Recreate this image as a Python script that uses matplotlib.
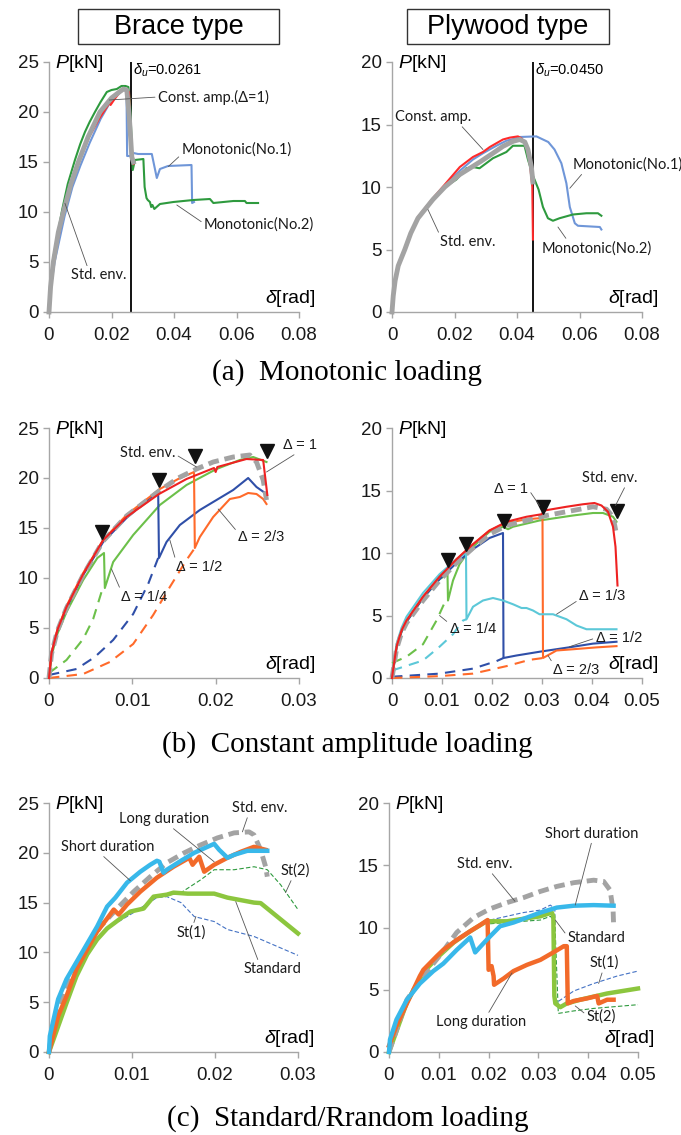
import matplotlib
matplotlib.use("Agg")
import matplotlib.pyplot as plt
from matplotlib.patches import Rectangle

plt.rcParams['font.family'] = ['Liberation Sans', 'DejaVu Sans']
plt.rcParams['mathtext.fontset'] = 'custom'
plt.rcParams['mathtext.rm'] = 'Liberation Sans'
plt.rcParams['mathtext.it'] = 'Liberation Sans:italic'

NOTE_FONT = ['Lato', 'DejaVu Sans']

# ---------------- (a) monotonic loading, brace type ----------------
a_br_env_x = [0, 0.0005, 0.0014, 0.003, 0.0046, 0.007, 0.0094, 0.0125, 0.0163, 0.02, 0.0225, 0.0238, 0.0249, 0.0257, 0.0265, 0.027]
a_br_env_y = [0, 2.5, 5, 8, 10, 12.8, 15, 17.5, 20, 21.4, 22.0, 22.3, 22.2, 19.5, 15.5, 15.0]
a_br_no1_x = [0, 0.0006, 0.0018, 0.005, 0.0075, 0.01, 0.013, 0.0165, 0.02, 0.0225, 0.0243, 0.0248, 0.025, 0.0264, 0.027,
              0.0285, 0.0297, 0.0329, 0.0345, 0.0355, 0.0381, 0.0456, 0.0458, 0.0464]
a_br_no1_y = [0, 2.5, 5, 9.6, 12.5, 14.6, 16.9, 19.3, 21.2, 22.0, 22.3, 22.0, 15.6, 15.6, 15.9,
              15.8, 15.8, 15.8, 13.4, 14.3, 14.6, 14.7, 10.9, 11.0]
a_br_no2_x = [0, 0.0005, 0.0013, 0.0042, 0.006, 0.0083, 0.01, 0.0115, 0.013, 0.0147, 0.0165, 0.0185, 0.02, 0.0217,
              0.0232, 0.0245, 0.0254, 0.026, 0.0268, 0.0275, 0.0302, 0.0306, 0.0312, 0.0316, 0.0323, 0.0327,
              0.0331, 0.0337, 0.0355, 0.0398, 0.0462, 0.0515, 0.0526, 0.059, 0.0627, 0.0632, 0.0669]
a_br_no2_y = [0, 2.7, 5.3, 10.2, 12.8, 15.2, 16.8, 18.0, 19.0, 20.0, 21.0, 22.0, 22.2, 22.3,
              22.6, 22.6, 22.5, 20.5, 14.2, 15.2, 15.3, 12.5, 11.4, 11.2, 11.0, 10.5,
              10.7, 10.3, 10.8, 11.0, 11.2, 11.3, 10.9, 11.1, 11.1, 10.9, 10.9]
a_br_ca_x = [0, 0.0005, 0.0015, 0.0046, 0.0075, 0.01, 0.013, 0.016, 0.0185, 0.0193, 0.0195, 0.0197, 0.021,
             0.0225, 0.024, 0.0252, 0.0256, 0.0258, 0.0262, 0.0265, 0.027]
a_br_ca_y = [0, 2.5, 5.1, 10.0, 13.2, 15.4, 17.6, 19.3, 20.5, 20.9, 21.3, 20.7, 21.3,
             21.9, 22.3, 22.1, 22.0, 20.2, 17.0, 15.3, 14.8]
a_br_du = 0.0261

# ---------------- (a) monotonic loading, plywood type ----------------
a_pl_env_x = [0, 0.0004, 0.001, 0.002, 0.0041, 0.006, 0.0083, 0.0131, 0.0169, 0.0217, 0.0281, 0.0323, 0.0355,
              0.0387, 0.0409, 0.0425, 0.0435, 0.0446, 0.0451]
a_pl_env_y = [0, 1.3, 2.5, 3.7, 5.0, 6.3, 7.5, 9.0, 10.0, 11.0, 12.0, 12.7, 13.25, 13.65, 13.8, 13.6, 13.0, 11.6, 10.4]
a_pl_ca_x = [0, 0.0004, 0.001, 0.002, 0.0041, 0.006, 0.0083, 0.0131, 0.0169, 0.0217, 0.0259, 0.0291, 0.0313,
             0.0334, 0.0355, 0.0377, 0.0403, 0.0414, 0.0427, 0.044, 0.0449, 0.0451]
a_pl_ca_y = [0, 1.3, 2.6, 3.8, 5.1, 6.4, 7.6, 9.1, 10.2, 11.6, 12.4, 12.8, 13.2,
             13.5, 13.8, 13.95, 14.05, 13.9, 13.5, 12.2, 10.0, 5.8]
a_pl_no1_x = [0, 0.0004, 0.001, 0.002, 0.0041, 0.006, 0.0083, 0.0131, 0.0169, 0.0217, 0.0259, 0.0291, 0.0334,
              0.0366, 0.0398, 0.0409, 0.0462, 0.05, 0.052, 0.0542, 0.0558, 0.0569, 0.0585, 0.0595, 0.0665, 0.067]
a_pl_no1_y = [0, 1.3, 2.5, 3.7, 5.0, 6.2, 7.5, 9.0, 10.1, 11.3, 12.2, 12.7, 13.3,
              13.7, 13.9, 14.0, 14.05, 13.6, 13.0, 11.9, 10.3, 8.4, 7.1, 6.9, 6.8, 6.6]
a_pl_no2_x = [0, 0.0004, 0.001, 0.002, 0.0041, 0.006, 0.0083, 0.0131, 0.0169, 0.0206, 0.0238, 0.0259, 0.028,
              0.0323, 0.0366, 0.0387, 0.0424, 0.0435, 0.0451, 0.0456, 0.0469, 0.0483, 0.0499, 0.0515, 0.0536,
              0.0579, 0.0622, 0.0659, 0.067]
a_pl_no2_y = [0, 1.3, 2.5, 3.7, 5.0, 6.2, 7.5, 9.0, 10.0, 10.6, 11.5, 11.6, 11.5,
              12.3, 12.8, 13.3, 13.3, 12.2, 10.9, 10.6, 9.8, 8.4, 7.5, 7.3, 7.5,
              7.8, 7.9, 7.9, 7.7]
a_pl_du = 0.0450

# ---------------- (b) constant amplitude, brace type ----------------
b_br_env_x = [0, 0.0003, 0.001, 0.0021, 0.0041, 0.0065, 0.0093, 0.0132, 0.0155, 0.0177, 0.0197, 0.0221, 0.0241,
              0.0249, 0.0257, 0.0261]
b_br_env_y = [0, 2.4, 4.7, 7.0, 10.3, 13.7, 16.2, 18.7, 20.0, 20.9, 21.6, 22.1, 22.3, 21.6, 19.8, 17.8]
b_br_d1_x = [0, 0.0003, 0.001, 0.0021, 0.0041, 0.0065, 0.0093, 0.0132, 0.0165, 0.0198, 0.02, 0.0202, 0.0237,
             0.0257, 0.0262]
b_br_d1_y = [0, 2.5, 4.8, 7.1, 10.4, 13.8, 16.1, 18.4, 19.9, 21.0, 20.6, 21.1, 21.9, 21.8, 18.3]
b_br_d14_x = [0, 0.0003, 0.001, 0.0021, 0.0041, 0.0058, 0.0066, 0.0067, 0.0077, 0.0101, 0.0133, 0.0165, 0.0201,
              0.0229, 0.0245, 0.0261]
b_br_d14_y = [0, 2.2, 4.4, 6.6, 9.8, 12.0, 12.5, 9.0, 11.6, 14.3, 17.3, 19.3, 20.9, 21.8, 22.1, 21.6]
b_br_d14r_x = [0, 0.0021, 0.0041, 0.0053, 0.0063, 0.0067]
b_br_d14r_y = [0.5, 1.8, 3.9, 5.9, 8.6, 9.0]
b_br_d12_x = [0, 0.0003, 0.001, 0.0021, 0.0041, 0.0065, 0.0093, 0.0131, 0.0132, 0.0141, 0.0157, 0.0181, 0.0201,
              0.0221, 0.0239, 0.0249, 0.0261]
b_br_d12_y = [0, 2.5, 4.7, 7.0, 10.3, 13.6, 16.0, 18.7, 12.0, 13.6, 15.3, 16.8, 17.8, 18.8, 20.0, 19.1, 18.4]
b_br_d12r_x = [0, 0.0033, 0.0055, 0.0077, 0.0101, 0.0119, 0.0131]
b_br_d12r_y = [0.3, 0.9, 2.1, 3.8, 6.4, 9.4, 12.0]
b_br_d23_x = [0, 0.0003, 0.001, 0.0021, 0.0041, 0.0065, 0.0093, 0.0133, 0.0155, 0.0174, 0.0175, 0.0181, 0.0197,
              0.0217, 0.0229, 0.0239, 0.0249, 0.0257, 0.0261]
b_br_d23_y = [0, 2.5, 4.8, 7.2, 10.5, 13.8, 16.3, 18.9, 19.9, 20.6, 13.0, 14.1, 16.1, 17.9, 18.1, 18.5, 18.4, 17.9, 17.4]
b_br_d23r_x = [0, 0.0041, 0.0073, 0.0101, 0.0125, 0.0145, 0.0165, 0.0175]
b_br_d23r_y = [0, 0.4, 1.6, 3.4, 6.3, 9.1, 11.8, 13.0]
b_br_tri_x = [0.0064, 0.0132, 0.0175, 0.0262]
b_br_tri_y = [14.6, 19.8, 22.2, 22.7]

# ---------------- (b) constant amplitude, plywood type ----------------
b_pl_env_x = [0, 0.0002, 0.0009, 0.0019, 0.0029, 0.0062, 0.0095, 0.0129, 0.0162, 0.0195, 0.0229, 0.0269, 0.0309,
              0.0362, 0.0402, 0.0429, 0.0442, 0.0449]
b_pl_env_y = [0, 0.5, 2.3, 3.6, 4.4, 6.2, 7.8, 9.2, 10.4, 11.5, 12.2, 12.6, 13.0, 13.4, 13.7, 13.5, 12.9, 11.5]
b_pl_d1_x = [0, 0.0002, 0.0009, 0.0019, 0.0029, 0.0062, 0.0095, 0.0129, 0.0162, 0.0195, 0.0229, 0.0269, 0.0299,
             0.0305, 0.0349, 0.0382, 0.0405, 0.0419, 0.0432, 0.0442, 0.0447, 0.0451]
b_pl_d1_y = [0, 0.6, 2.5, 3.8, 4.6, 6.5, 8.1, 9.5, 10.7, 11.8, 12.5, 12.9, 13.1,
             13.4, 13.7, 13.9, 14.0, 13.8, 13.3, 12.1, 10.5, 7.4]
b_pl_d14_x = [0, 0.0002, 0.0009, 0.0019, 0.0029, 0.0062, 0.0095, 0.0111, 0.0112, 0.0122, 0.0135, 0.0149, 0.0162,
              0.0195, 0.0222, 0.0232, 0.0242, 0.0295, 0.0362, 0.0402, 0.0422, 0.0442, 0.0449]
b_pl_d14_y = [0, 0.5, 2.4, 3.7, 4.5, 6.4, 7.9, 8.3, 6.2, 7.8, 9.1, 9.9, 10.5,
              11.7, 12.1, 11.9, 12.1, 12.6, 13.0, 13.2, 13.2, 12.9, 12.5]
b_pl_d14r_x = [0, 0.0029, 0.0062, 0.0089, 0.0105, 0.0112]
b_pl_d14r_y = [1.2, 1.7, 2.7, 4.6, 6.0, 6.2]
b_pl_d13_x = [0, 0.0002, 0.0009, 0.0019, 0.0029, 0.0062, 0.0095, 0.0129, 0.0148, 0.0149, 0.0162, 0.0182, 0.0202,
              0.0222, 0.0242, 0.0259, 0.0269, 0.0282, 0.0295, 0.0322, 0.0349, 0.0369, 0.0389, 0.0449]
b_pl_d13_y = [0, 0.7, 2.7, 4.0, 4.9, 6.8, 8.3, 9.5, 10.0, 4.7, 5.7, 6.2, 6.4,
              6.2, 5.9, 5.6, 5.6, 5.4, 5.1, 5.1, 4.7, 4.2, 3.9, 3.9]
b_pl_d13r_x = [0, 0.0062, 0.0095, 0.0122, 0.0142, 0.0149]
b_pl_d13r_y = [0.6, 1.4, 2.5, 3.5, 4.6, 4.7]
b_pl_d12_x = [0, 0.0002, 0.0009, 0.0019, 0.0029, 0.0062, 0.0095, 0.0129, 0.0162, 0.0195, 0.0222, 0.0223, 0.0249,
              0.0295, 0.0362, 0.0402, 0.0449]
b_pl_d12_y = [0, 0.5, 2.4, 3.7, 4.5, 6.4, 7.9, 9.2, 10.3, 11.2, 11.6, 1.6, 1.8, 2.1, 2.5, 2.75, 2.9]
b_pl_d12r_x = [0, 0.0095, 0.0162, 0.0209, 0.0223]
b_pl_d12r_y = [0.1, 0.35, 0.75, 1.35, 1.6]
b_pl_d23_x = [0, 0.0002, 0.0009, 0.0019, 0.0029, 0.0062, 0.0095, 0.0129, 0.0162, 0.0195, 0.0229, 0.0269, 0.0301,
              0.0302, 0.0329, 0.0362, 0.0409, 0.0449]
b_pl_d23_y = [0, 0.6, 2.5, 3.8, 4.6, 6.5, 8.1, 9.5, 10.7, 11.8, 12.4, 12.7, 12.8, 1.6, 2.2, 2.3, 2.45, 2.55]
b_pl_d23r_x = [0, 0.0095, 0.0162, 0.0229, 0.0275, 0.0302]
b_pl_d23r_y = [0, 0.15, 0.35, 0.95, 1.45, 1.6]
b_pl_tri_x = [0.0112, 0.0147, 0.0223, 0.0302, 0.0449]
b_pl_tri_y = [9.47, 10.75, 12.6, 13.7, 13.4]

# ---------------- (c) standard / random, brace type ----------------
c_br_env_x = [0, 0.0005, 0.0015, 0.0025, 0.0042, 0.0062, 0.0082, 0.0102, 0.0122, 0.0142, 0.0163, 0.0183, 0.0203,
              0.0223, 0.0241, 0.0247, 0.0255, 0.0261, 0.0263]
c_br_env_y = [0, 2.8, 5.5, 7.5, 10.1, 12.6, 14.4, 16.1, 17.6, 19.0, 20.0, 20.8, 21.5, 22.0, 22.1, 21.8, 20.3, 18.6, 17.6]
c_br_short_x = [0, 0.0001, 0.0011, 0.0021, 0.0042, 0.0058, 0.007, 0.008, 0.0094, 0.011, 0.0122, 0.013, 0.0133,
                0.0138, 0.0142, 0.0159, 0.0175, 0.0191, 0.0199, 0.0205, 0.0215, 0.0223, 0.0239, 0.0263]
c_br_short_y = [0, 1.6, 5.3, 7.3, 10.3, 12.6, 14.6, 15.5, 17.0, 18.1, 18.8, 19.2, 19.1,
                18.0, 18.3, 19.2, 20.0, 20.6, 20.9, 20.3, 19.5, 19.8, 20.2, 20.2]
c_br_long_x = [0, 0.0011, 0.0021, 0.0033, 0.0046, 0.0058, 0.007, 0.0078, 0.0084, 0.0094, 0.011, 0.013, 0.015,
               0.0169, 0.0173, 0.0181, 0.0187, 0.0199, 0.0215, 0.0231, 0.0247, 0.0261]
c_br_long_y = [0, 3.6, 5.6, 8.3, 10.3, 12.1, 13.4, 14.3, 13.8, 14.8, 16.1, 17.5, 18.6,
               19.5, 18.8, 19.6, 18.1, 18.8, 19.5, 20.1, 20.6, 20.3]
c_br_std_x = [0, 0.0021, 0.0033, 0.0046, 0.0058, 0.007, 0.0086, 0.0098, 0.0114, 0.0126, 0.0142, 0.015, 0.0167,
              0.0199, 0.0215, 0.0247, 0.0255, 0.03]
c_br_std_y = [0, 4.9, 7.6, 9.8, 11.3, 12.4, 13.4, 14.1, 14.4, 15.6, 15.8, 16.0, 15.9,
              15.9, 15.5, 15.0, 14.95, 11.9]
c_br_st1_x = [0.007, 0.01, 0.013, 0.0142, 0.0159, 0.0175, 0.0199, 0.0215, 0.0247, 0.03]
c_br_st1_y = [12.4, 13.9, 15.5, 15.6, 15.0, 13.6, 13.1, 12.3, 11.6, 9.7]
c_br_st2_x = [0.0142, 0.0159, 0.0183, 0.0199, 0.0223, 0.0247, 0.0263, 0.0279, 0.03]
c_br_st2_y = [15.7, 16.0, 17.3, 18.3, 18.3, 18.6, 18.3, 16.8, 14.3]

# ---------------- (c) standard / random, plywood type ----------------
c_pl_env_x = [0, 0.0036, 0.0069, 0.0103, 0.0136, 0.017, 0.0203, 0.0237, 0.027, 0.0304, 0.0337, 0.0371, 0.0411,
              0.0431, 0.0444, 0.045, 0.0451]
c_pl_env_y = [0, 4.2, 6.1, 7.8, 9.6, 10.8, 11.5, 12.0, 12.4, 12.9, 13.3, 13.6, 13.8, 13.7, 13.0, 11.4, 10.2]
c_pl_short_x = [0, 0.0002, 0.0015, 0.0036, 0.0062, 0.0089, 0.0109, 0.0136, 0.0163, 0.0173, 0.0196, 0.0223, 0.025,
                0.0277, 0.0304, 0.0337, 0.0371, 0.0411, 0.0451]
c_pl_short_y = [0, 1.0, 2.6, 4.2, 5.5, 6.5, 7.1, 8.2, 9.2, 8.0, 9.0, 10.1, 10.4,
                10.8, 11.2, 11.6, 11.75, 11.8, 11.75]
c_pl_long_x = [0, 0.0002, 0.0015, 0.0036, 0.0062, 0.0069, 0.0096, 0.0109, 0.0136, 0.0163, 0.0183, 0.0198, 0.02,
               0.0206, 0.021, 0.0211, 0.023, 0.025, 0.0277, 0.0304, 0.033, 0.0351, 0.0357, 0.0359, 0.0371,
               0.0397, 0.0418, 0.0421, 0.0438, 0.0451]
c_pl_long_y = [0.5, 0.7, 2.1, 3.9, 6.1, 6.6, 7.7, 8.2, 9.0, 9.7, 10.2, 10.6, 6.6,
               6.9, 6.1, 5.4, 5.9, 6.5, 7.0, 7.4, 8.0, 8.5, 8.5, 3.9, 4.1,
               4.3, 4.5, 3.9, 4.2, 4.2]
c_pl_std_x = [0, 0.0036, 0.0069, 0.01, 0.013, 0.0163, 0.0196, 0.0203, 0.0237, 0.027, 0.0304, 0.0327, 0.033, 0.0332,
              0.0334, 0.0344, 0.0357, 0.0384, 0.0438, 0.05]
c_pl_std_y = [0, 4.0, 6.4, 7.7, 8.8, 9.7, 10.5, 10.5, 10.5, 10.7, 10.9, 11.2, 10.9, 4.5,
              3.9, 3.6, 3.9, 4.2, 4.7, 5.1]
c_pl_st1_x = [0.0203, 0.027, 0.0304, 0.0324, 0.0333, 0.0334, 0.0371, 0.0411, 0.0458, 0.05]
c_pl_st1_y = [10.6, 11.2, 11.4, 11.8, 11.5, 3.9, 4.9, 5.5, 6.1, 6.5]
c_pl_st2_x = [0.0203, 0.027, 0.0304, 0.0324, 0.0333, 0.034, 0.0371, 0.0411, 0.05]
c_pl_st2_y = [10.3, 10.5, 10.6, 10.9, 10.5, 3.1, 3.3, 3.5, 3.8]

GRAY = '#a3a3a3'
LEADER = dict(arrowstyle='-', color='#555555', lw=0.6, shrinkA=0, shrinkB=0)

fig = plt.figure(figsize=(6.81, 11.35), dpi=100)


def make_axes(left_px, top_px, w_px, h_px, xmax, ymax, xticks, xlabels, yticks):
    ax = fig.add_axes([left_px / 681, 1 - (top_px + h_px) / 1135, w_px / 681, h_px / 1135])
    ax.set_xlim(0, xmax)
    ax.set_ylim(0, ymax)
    for s in ['top', 'right']:
        ax.spines[s].set_visible(False)
    for s in ['left', 'bottom']:
        ax.spines[s].set_color('#a6a6a6')
        ax.spines[s].set_linewidth(1.0)
    ax.set_xticks(xticks)
    ax.set_xticklabels(xlabels)
    ax.set_yticks(yticks)
    ax.tick_params(axis='both', direction='out', length=4.5, width=1, color='#a6a6a6',
                   labelsize=13.5, labelcolor='#1a1a1a')
    ax.tick_params(axis='x', pad=6)
    ax.tick_params(axis='y', pad=3)
    ax.patch.set_alpha(0)
    ax.text(0.025, 0.995, '$P$[kN]', transform=ax.transAxes, fontsize=14, ha='left', va='center')
    ax.text(1.065, 0.012, r'$\delta$[rad]', transform=ax.transAxes, fontsize=14, ha='right', va='bottom')
    return ax


def note(ax, txt, xy, xytext, relpos, fs=10.5, family=NOTE_FONT, bg=False):
    kw = {}
    if bg:
        kw['bbox'] = dict(boxstyle='square,pad=0.15', fc='white', ec='none')
    ax.annotate(txt, xy=xy, xytext=xytext, ha='left', va='center', fontsize=fs, family=family,
                color='#1a1a1a', annotation_clip=False, zorder=6,
                arrowprops=dict(relpos=relpos, **LEADER), **kw)


def line(ax, x, y, color, lw=1.5, ls='-', z=3):
    ax.plot(x, y, color=color, lw=lw, ls=ls, zorder=z, clip_on=False, solid_joinstyle='round')


# ---- (a) brace ----
ax = make_axes(49, 62, 250, 250, 0.08, 25, [0, 0.02, 0.04, 0.06, 0.08],
               ['0', '0.02', '0.04', '0.06', '0.08'], [0, 5, 10, 15, 20, 25])
ax.axvline(a_br_du, color='black', lw=1.3, zorder=2)
line(ax, a_br_no1_x, a_br_no1_y, '#6f96d8')
line(ax, a_br_no2_x, a_br_no2_y, '#2e9a3e')
line(ax, a_br_ca_x, a_br_ca_y, '#ff2a2a')
line(ax, a_br_env_x, a_br_env_y, GRAY, lw=3.5, z=4)
ax.text(a_br_du + 0.0008, 24.2, r'$\delta_u$=0.0261', fontsize=10.5, ha='left', va='center')
note(ax, 'Const. amp.(Δ=1)', (0.0193, 21.2), (0.0348, 21.5), (0, 0.5))
note(ax, 'Monotonic(No.1)', (0.0382, 14.55), (0.0424, 16.2), (0, 0.2))
note(ax, 'Monotonic(No.2)', (0.0409, 10.7), (0.0496, 8.7), (0, 0.6))
note(ax, 'Std. env.', (0.0051, 10.87), (0.0071, 3.7), (0.3, 1), bg=True)

# ---- (a) plywood ----
ax = make_axes(392, 62, 250, 250, 0.08, 20, [0, 0.02, 0.04, 0.06, 0.08],
               ['0', '0.02', '0.04', '0.06', '0.08'], [0, 5, 10, 15, 20])
ax.axvline(a_pl_du, color='black', lw=1.3, zorder=2)
line(ax, a_pl_no1_x, a_pl_no1_y, '#6f96d8')
line(ax, a_pl_no2_x, a_pl_no2_y, '#2e9a3e')
line(ax, a_pl_ca_x, a_pl_ca_y, '#ff2a2a')
line(ax, a_pl_env_x, a_pl_env_y, GRAY, lw=3.5, z=4)
ax.text(a_pl_du + 0.0008, 19.3, r'$\delta_u$=0.0450', fontsize=10.5, ha='left', va='center')
note(ax, 'Const. amp.', (0.0291, 13.0), (0.0009, 15.6), (0.85, 0))
note(ax, 'Std. env.', (0.0115, 8.2), (0.0153, 5.6), (0, 1))
note(ax, 'Monotonic(No.1)', (0.0569, 9.9), (0.0579, 11.8), (0.1, 0))
note(ax, 'Monotonic(No.2)', (0.0531, 6.8), (0.0478, 5.1), (0.24, 1))

# ---- (b) brace ----
ax = make_axes(49, 428, 250, 250, 0.03, 25, [0, 0.01, 0.02, 0.03],
               ['0', '0.01', '0.02', '0.03'], [0, 5, 10, 15, 20, 25])
dash = (0, (5, 3.5))
line(ax, b_br_d14r_x, b_br_d14r_y, '#6cc04a', ls=dash)
line(ax, b_br_d12r_x, b_br_d12r_y, '#2f4fa8', ls=dash)
line(ax, b_br_d23r_x, b_br_d23r_y, '#ff6a2a', ls=dash)
line(ax, b_br_d14_x, b_br_d14_y, '#6cc04a')
line(ax, b_br_d12_x, b_br_d12_y, '#2f4fa8')
line(ax, b_br_d23_x, b_br_d23_y, '#ff6a2a')
line(ax, b_br_env_x, b_br_env_y, GRAY, lw=3.5, ls=(0, (2.2, 1.2)), z=3.5)
line(ax, b_br_d1_x, b_br_d1_y, '#ee2222', z=4)
ax.plot(b_br_tri_x, b_br_tri_y, 'v', color='#111111', ms=9.5, zorder=5, clip_on=False, ls='none')
note(ax, 'Std. env.', (0.0177, 21.1), (0.0085, 22.5), (1, 0.4))
note(ax, 'Δ = 1', (0.0261, 20.6), (0.0281, 23.3), (0.45, 0), family=['Liberation Sans'])
note(ax, 'Δ = 2/3', (0.0203, 16.9), (0.0227, 14.1), (0, 0.8), family=['Liberation Sans'])
note(ax, 'Δ = 1/2', (0.0145, 13.8), (0.0152, 11.1), (0, 1), family=['Liberation Sans'])
note(ax, 'Δ = 1/4', (0.0075, 10.9), (0.0086, 8.1), (0, 1), family=['Liberation Sans'])

# ---- (b) plywood ----
ax = make_axes(392, 428, 250, 250, 0.05, 20, [0, 0.01, 0.02, 0.03, 0.04, 0.05],
               ['0', '0.01', '0.02', '0.03', '0.04', '0.05'], [0, 5, 10, 15, 20])
line(ax, b_pl_d14r_x, b_pl_d14r_y, '#6cc04a', ls=dash)
line(ax, b_pl_d13r_x, b_pl_d13r_y, '#5cc8d8', ls=dash)
line(ax, b_pl_d12r_x, b_pl_d12r_y, '#2f4fa8', ls=dash)
line(ax, b_pl_d23r_x, b_pl_d23r_y, '#ff6a2a', ls=dash)
line(ax, b_pl_d14_x, b_pl_d14_y, '#6cc04a')
line(ax, b_pl_d12_x, b_pl_d12_y, '#2f4fa8')
line(ax, b_pl_d23_x, b_pl_d23_y, '#ff6a2a')
line(ax, b_pl_d13_x, b_pl_d13_y, '#5cc8d8')
line(ax, b_pl_env_x, b_pl_env_y, GRAY, lw=3.5, ls=(0, (2.2, 1.2)), z=3.5)
line(ax, b_pl_d1_x, b_pl_d1_y, '#ee2222', z=4)
ax.plot(b_pl_tri_x, b_pl_tri_y, 'v', color='#111111', ms=9.5, zorder=5, clip_on=False, ls='none')
note(ax, 'Std. env.', (0.0447, 13.8), (0.0379, 16.0), (0.8, 0))
note(ax, 'Δ = 1', (0.0295, 13.8), (0.0204, 15.15), (1, 0.5), family=['Liberation Sans'])
note(ax, 'Δ = 1/3', (0.0329, 5.1), (0.0374, 6.6), (0, 0.2), family=['Liberation Sans'])
note(ax, 'Δ = 1/2', (0.0355, 2.5), (0.0407, 3.2), (0, 0.5), family=['Liberation Sans'])
note(ax, 'Δ = 2/3', (0.0312, 1.8), (0.0322, 0.6), (0, 1), family=['Liberation Sans'])
note(ax, 'Δ = 1/4', (0.0095, 5.0), (0.0115, 3.9), (0, 0.9), family=['Liberation Sans'])

# ---- (c) brace ----
ax = make_axes(49, 803, 249, 249, 0.03, 25, [0, 0.01, 0.02, 0.03],
               ['0', '0.01', '0.02', '0.03'], [0, 5, 10, 15, 20, 25])
line(ax, c_br_st1_x, c_br_st1_y, '#4472c4', lw=0.8, ls=(0, (4, 2)))
line(ax, c_br_st2_x, c_br_st2_y, '#2e9a3e', lw=0.8, ls=(0, (4, 2)))
line(ax, c_br_std_x, c_br_std_y, '#8cc63e', lw=3.2)
line(ax, c_br_env_x, c_br_env_y, GRAY, lw=3.5, ls=(0, (2.2, 1.2)), z=3.5)
line(ax, c_br_long_x, c_br_long_y, '#f26a2a', lw=3.2, z=4)
line(ax, c_br_short_x, c_br_short_y, '#38b8ea', lw=3.2, z=4.5)
note(ax, 'Std. env.', (0.0233, 22.1), (0.022, 24.5), (0.3, 0))
note(ax, 'Long duration', (0.0199, 19.1), (0.0084, 23.4), (0.57, 0))
note(ax, 'Short duration', (0.0098, 17.2), (0.0015, 20.6), (0.42, 0))
note(ax, 'St(2)', (0.0285, 16.0), (0.0279, 18.2), (0.4, 0))
note(ax, 'St(1)', (0.0177, 13.6), (0.0154, 12.0), (0.55, 1))
note(ax, 'Standard', (0.0225, 15.1), (0.0234, 8.3), (0.27, 1))

# ---- (c) plywood ----
ax = make_axes(389, 803, 249, 249, 0.05, 20, [0, 0.01, 0.02, 0.03, 0.04, 0.05],
               ['0', '0.01', '0.02', '0.03', '0.04', '0.05'], [0, 5, 10, 15, 20])
line(ax, c_pl_st1_x, c_pl_st1_y, '#4472c4', lw=0.8, ls=(0, (4, 2)))
line(ax, c_pl_st2_x, c_pl_st2_y, '#2e9a3e', lw=0.8, ls=(0, (4, 2)))
line(ax, c_pl_std_x, c_pl_std_y, '#8cc63e', lw=3.2)
line(ax, c_pl_env_x, c_pl_env_y, GRAY, lw=3.5, ls=(0, (2.2, 1.2)), z=3.5)
line(ax, c_pl_long_x, c_pl_long_y, '#f26a2a', lw=3.2, z=4)
line(ax, c_pl_short_x, c_pl_short_y, '#38b8ea', lw=3.2, z=4.5)
note(ax, 'Short duration', (0.0374, 11.8), (0.0314, 17.55), (0.5, 0))
note(ax, 'Std. env.', (0.0253, 12.1), (0.0136, 15.1), (0.6, 0))
note(ax, 'Standard', (0.0334, 10.6), (0.0359, 9.15), (0, 0.6))
note(ax, 'St(1)', (0.0421, 5.5), (0.0403, 7.15), (0.45, 0))
note(ax, 'St(2)', (0.0374, 3.7), (0.0397, 2.85), (0, 0.6))
note(ax, 'Long duration', (0.0247, 6.35), (0.0094, 2.4), (0.57, 1))

# ---- title boxes and captions ----
for x0, x1, label in [(78, 279, 'Brace type'), (407, 609, 'Plywood type')]:
    fig.add_artist(Rectangle((x0 / 681, 1 - 44 / 1135), (x1 - x0) / 681, 35 / 1135,
                             transform=fig.transFigure, fill=False, ec='#333333', lw=1.0))
    fig.text((x0 + x1) / 2 / 681, 1 - 27 / 1135, label, ha='center', va='center', fontsize=19.5)

captions = ['(a)  Monotonic loading', '(b)  Constant amplitude loading', '(c)  Standard/Rrandom loading']
for cy, cap in zip([373, 745, 1119], captions):
    fig.text(0.51, 1 - cy / 1135, cap, ha='center', va='center', fontsize=21, family='Liberation Serif')

fig.savefig('out.png', dpi=100)
